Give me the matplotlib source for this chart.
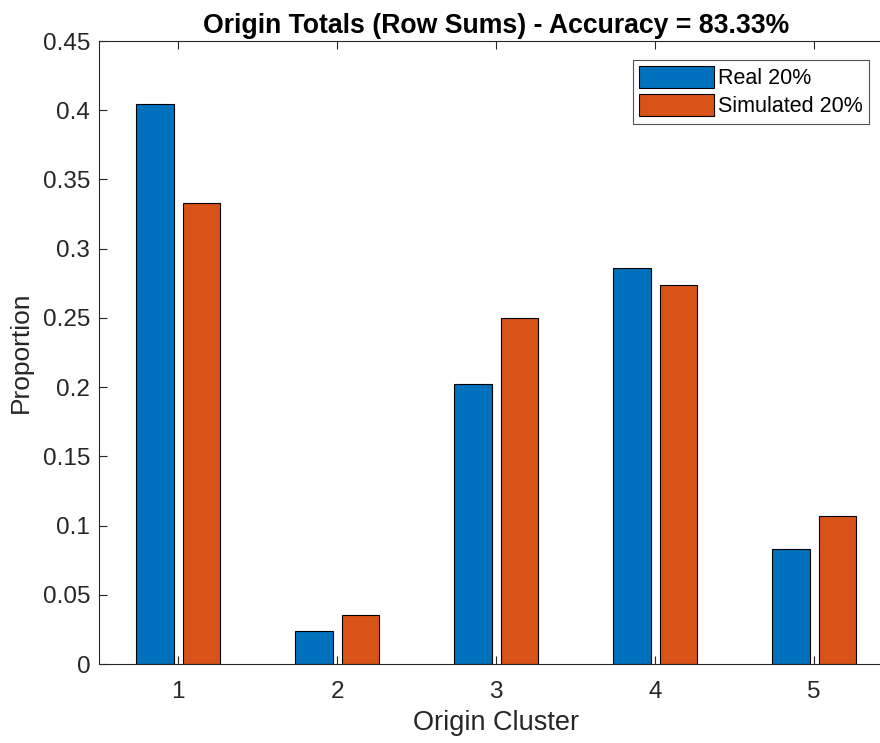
import matplotlib.pyplot as plt
import numpy as np

plt.rcParams['font.family'] = ['Liberation Sans', 'DejaVu Sans']

clusters = [1, 2, 3, 4, 5]
real = [0.4048, 0.0238, 0.2024, 0.2857, 0.0833]
simulated = [0.3333, 0.0354, 0.2500, 0.2738, 0.1071]
labels = ['Real 20%', 'Simulated 20%']

fig = plt.figure(figsize=(8.8, 7.43), dpi=100)
ax = fig.add_axes([0.112, 0.1063, 0.9034, 0.8385])

x = np.array(clusters)
w = 0.233
ax.bar(x - 0.145, real, w, color='#0072BD', edgecolor='black', linewidth=0.8, label=labels[0])
ax.bar(x + 0.145, simulated, w, color='#D95319', edgecolor='black', linewidth=0.8, label=labels[1])

ax.set_xlim(0.5, 5.5)
ax.set_ylim(0, 0.45)
ax.set_xticks(clusters)
ax.set_yticks(np.arange(0, 0.451, 0.05))
ax.set_yticklabels(['0', '0.05', '0.1', '0.15', '0.2', '0.25', '0.3', '0.35', '0.4', '0.45'])
ax.tick_params(direction='in', top=True, right=False, length=6, width=0.8,
               labelsize=17.5, colors='#262626', labelcolor='#262626')
ax.tick_params(axis='y', pad=6)
ax.tick_params(axis='x', pad=12)
for s in ax.spines.values():
    s.set_color('#262626')
    s.set_linewidth(0.8)

ax.set_xlabel('Origin Cluster', fontsize=19.5, color='#262626', labelpad=5)
ax.set_ylabel('Proportion', fontsize=19, color='#262626', labelpad=7)
ax.set_title('Origin Totals (Row Sums) - Accuracy = 83.33%', fontsize=19.2,
             fontweight='bold', pad=6)

leg = ax.legend(loc='upper left', bbox_to_anchor=(0.672, 0.97), fontsize=15.5,
                fancybox=False, edgecolor='#262626', handlelength=3.45,
                handleheight=1.2, handletextpad=0.2, borderpad=0.3,
                labelspacing=0.22, borderaxespad=0)
leg.get_frame().set_linewidth(0.8)

fig.savefig('out.png', dpi=100)
